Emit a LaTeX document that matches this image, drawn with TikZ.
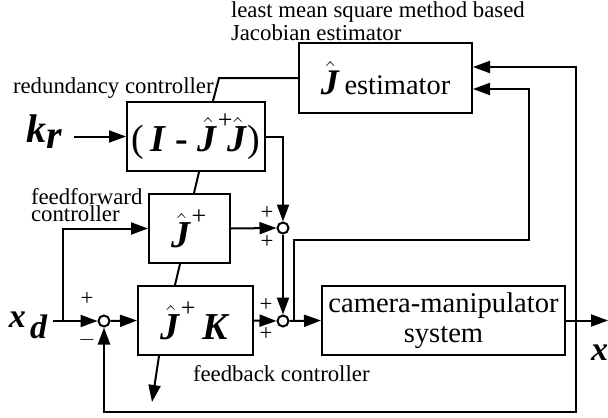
\documentclass[tikz,border=0pt]{standalone}
\usepackage{fontspec}
\setmainfont{Liberation Serif}
\usetikzlibrary{positioning, arrows.meta, calc}
\newcommand{\bv}[1]{\textbf{\textit{#1}}}
\newcommand{\pl}{\mbox{\fontsize{13}{13}\selectfont +}}

\begin{document}
\begin{tikzpicture}[x=0.5pt, y=-0.5pt, line width=1pt,
    block/.style={draw, inner sep=0pt, minimum height=34.5pt},
    sum/.style={draw, circle, inner sep=0pt, minimum size=5.5pt, fill=white},
    arr/.style={-{Triangle[length=8.5pt,width=6pt]}},
    lbl/.style={font=\fontsize{11.4}{8.5}\selectfont, align=left, inner sep=0pt},
    big/.style={font=\fontsize{19}{20}\selectfont},
    sgn/.style={font=\fontsize{11.4}{12}\selectfont, inner sep=0pt}]
    \useasboundingbox (0,0) rectangle (608,417);

    % blocks
    \node[block, minimum width=86.5pt, font=\fontsize{14.2}{16}\selectfont] (est) at (385.5,78) {{\fontsize{18}{20}\selectfont$\hat{\bv{J}}$}\,estimator};
    \node[block, minimum width=69pt, big] (red) at (196,136.5) {(\,\bv{I} \textbf{-} $\hat{\bv{J}}^{\pl}\!\hat{\bv{J}}$)};
    \node[block, minimum width=40.5pt, big] (ff) at (189.5,228.5) {$\hat{\bv{J}}^{\pl}$};
    \node[block, minimum width=57.5pt, big] (fb) at (195.5,320.5) {$\hat{\bv{J}}^{\pl}$\,\bv{K}};
    \node[block, minimum width=121.5pt, align=center, font=\fontsize{14.3}{15}\selectfont] (plant) at (443.5,320.5) {camera-manipulator\\system};

    % summing points
    \node[sum] (s1) at (104,321) {};
    \node[sum] (s2) at (283,228) {};
    \node[sum] (s3) at (283,321) {};

    % signals
    \node[anchor=base west, inner sep=0pt, font=\fontsize{20}{20}\selectfont\bfseries\itshape] (kr) at (25,142) {k$_{\bv{r}}$};
    \node[anchor=base west, inner sep=0pt, font=\fontsize{17}{17}\selectfont\bfseries\itshape] (xd) at (8,327) {x$_{\,\bv{d}}$};
    \node[anchor=base west, inner sep=0pt, font=\fontsize{17}{17}\selectfont\bfseries\itshape] (xout) at (590,360) {x};

    % texts
    \node[lbl, anchor=north west] (lms) at (230,1) {least mean square method based\\Jacobian estimator};
    \node[lbl, anchor=base west] (redl) at (12,93) {redundancy controller};
    \node[lbl, anchor=north west] (ffl) at (30,187) {feedforward\\controller};
    \node[lbl, anchor=base west] (fbl) at (192,381) {feedback controller};

    % signs
    \node[sgn] (p1a) at (87,299) {+};
    \node[sgn] (p1b) at (87,340) {$-$};
    \node[sgn] (p2a) at (267,213) {+};
    \node[sgn] (p2b) at (267,242) {+};
    \node[sgn] (p3a) at (266,305) {+};
    \node[sgn] (p3b) at (266,334) {+};

    \coordinate (br) at (63,321);
    \coordinate (jout) at (152,402);
    \coordinate (out) at (608,320.5);
    \coordinate (tap) at (576,320.5);
    \coordinate (c1) at (529,240);
    \coordinate (c2) at (576,412);

    % connectors
    \draw[arr, shorten <=5pt] (kr.east |- red.west) -- (red.west);
    \draw[arr] (red.east) -| (s2.north);
    \draw ([xshift=8.5pt]red.north) -- ([xshift=11.5pt]red.north |- est.west) -- (est.west);
    \draw ([xshift=1.5pt]red.south) -- ([xshift=2.25pt]ff.north);
    \draw ([xshift=-4.75pt]ff.south) -- ([xshift=-10.25pt]fb.north);
    \draw[arr] ([xshift=-18.25pt]fb.south) -- (jout);
    \draw[shorten <=2pt] (xd.east |- s1.west) -- (br);
    \draw[arr] (br) -- (s1.west);
    \draw[arr] (br) |- (ff.west);
    \draw[arr] (s1.east) -- (fb.west);
    \draw[arr] (ff.east) -- (s2.west);
    \draw[arr] (fb.east) -- (s3.west);
    \draw[arr] (s2.south) -- (s3.north);
    \draw[arr] (s3.east) -- (plant.west);
    \draw[arr] (plant.east) -- (out);
    \draw[arr] ([xshift=2.25pt]s3.east) |- (c1) |- ([yshift=-5.5pt]est.east);
    \draw[arr] (tap) |- ([yshift=5.5pt]est.east);
    \draw[arr] (tap) -- (c2) -| (s1.south);
\end{tikzpicture}
\end{document}
